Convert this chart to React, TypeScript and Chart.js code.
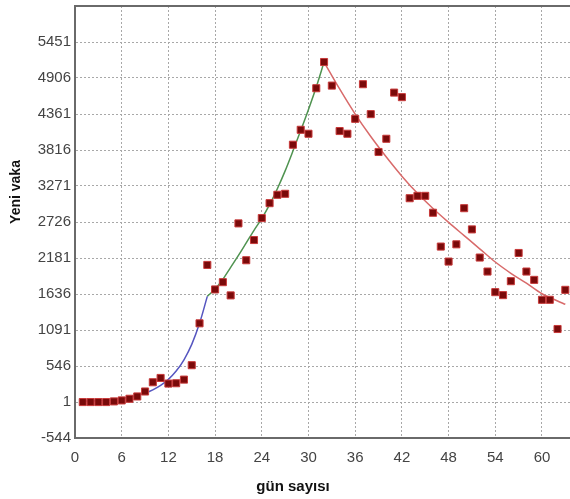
import React, { useEffect, useRef } from "react";
import { Chart, registerables } from "chart.js";

Chart.register(...registerables);

// Observed daily new cases (scatter points)
const days: number[] = Array.from({ length: 63 }, (_, i) => i + 1);
const cases: number[] = [
  0, 0, 0, 0, 10, 25, 50, 85, 160, 300, 365, 280, 285, 340, 558, 1192,
  2076, 1705, 1815, 1615, 2705, 2147, 2453, 2785, 3011, 3138, 3153,
  3896, 4122, 4062, 4751, 5148, 4791, 4103, 4062, 4288, 4812, 4359, 3786, 3986,
  4685, 4616, 3086, 3122, 3122, 2866,
  2354, 2127, 2388, 2935, 2614, 2188, 1976, 1664, 1619, 1830, 2257, 1976, 1850,
  1548, 1548, 1106, 1699,
];

// Fitted curves
const blueDays: number[] = [1, 2, 3, 4, 5, 6, 7, 8, 9, 10, 11, 12, 13, 14, 15, 16, 17];
const blueVals: number[] = [11, 15, 21, 29, 40, 54, 73, 100, 136, 185, 252, 344, 469, 640, 873, 1192, 1600];

const greenDays: number[] = [17, 18, 19, 20, 21, 22, 23, 24, 25, 26, 27, 28, 29, 30, 31, 32];
const greenVals: number[] = [1600, 1710, 1860, 2040, 2220, 2410, 2600, 2780, 2990, 3230, 3500, 3800, 4110, 4430, 4770, 5148];

const redDays: number[] = [32, 34, 36, 38, 40, 42, 44, 46, 48, 50, 52, 54, 56, 58, 60, 62, 63];
const redVals: number[] = [5148, 4740, 4360, 4020, 3710, 3420, 3160, 2930, 2720, 2520, 2320, 2120, 1950, 1800, 1640, 1530, 1480];

// Axis ticks
const yTicks: number[] = [-544, 1, 546, 1091, 1636, 2181, 2726, 3271, 3816, 4361, 4906, 5451];
const xTicks: number[] = [0, 6, 12, 18, 24, 30, 36, 42, 48, 54, 60];
const yMin = -544;
const yMax = 5996;
const xMin = 0;
const xMax = 63.6;

const FONT = "'Liberation Sans', Arial, sans-serif";

const pts = (xs: number[], ys: number[]) => xs.map((x, i) => ({ x, y: ys[i] }));

const decorPlugin = {
  id: "decor",
  afterDraw(chart: any) {
    const { ctx, chartArea } = chart;
    ctx.save();
    ctx.strokeStyle = "#6a6a6a";
    ctx.lineWidth = 2;
    ctx.beginPath();
    ctx.moveTo(chartArea.left - 1, chartArea.top);
    ctx.lineTo(chartArea.right, chartArea.top);
    ctx.stroke();

    ctx.fillStyle = "#111";
    ctx.textAlign = "center";
    ctx.textBaseline = "middle";
    ctx.font = `bold 14px ${FONT}`;
    ctx.save();
    ctx.translate(16, 192);
    ctx.rotate(-Math.PI / 2);
    ctx.fillText("Yeni vaka", 0, 0);
    ctx.restore();
    ctx.font = `bold 15px ${FONT}`;
    ctx.fillText("gün sayısı", 293, 487);
    ctx.restore();
  },
};

export default function App() {
  const ref = useRef<HTMLCanvasElement>(null);

  useEffect(() => {
    document.body.style.margin = "0";
    document.body.style.background = "#fff";
    const canvas = ref.current;
    if (!canvas) return;
    const chart = new Chart(canvas, {
      type: "scatter",
      data: {
        datasets: [
          {
            label: "vaka",
            data: pts(days, cases),
            pointStyle: "rect",
            pointRadius: 5,
            pointBackgroundColor: "#7a0a0a",
            pointBorderColor: "#c83a3a",
            pointBorderWidth: 1,
            showLine: false,
          },
          {
            label: "blue",
            data: pts(blueDays, blueVals),
            showLine: true,
            borderColor: "#5656c0",
            borderWidth: 1.5,
            pointRadius: 0,
            cubicInterpolationMode: "monotone",
          },
          {
            label: "green",
            data: pts(greenDays, greenVals),
            showLine: true,
            borderColor: "#4f9350",
            borderWidth: 1.5,
            pointRadius: 0,
            cubicInterpolationMode: "monotone",
          },
          {
            label: "red",
            data: pts(redDays, redVals),
            showLine: true,
            borderColor: "#d86a6a",
            borderWidth: 1.5,
            pointRadius: 0,
            cubicInterpolationMode: "monotone",
          },
        ],
      },
      options: {
        responsive: false,
        animation: false,
        layout: { autoPadding: false, padding: { top: 6, left: 0, right: 0, bottom: 0 } },
        plugins: {
          legend: { display: false },
          tooltip: { enabled: false },
        },
        scales: {
          x: {
            type: "linear",
            min: xMin,
            max: xMax,
            afterBuildTicks: (scale: any) => {
              scale.ticks = xTicks.map((v) => ({ value: v }));
            },
            afterFit: (scale: any) => {
              scale.height = 61;
              scale.paddingLeft = 0;
              scale.paddingRight = 0;
            },
            grid: {
              color: "#a8a8a8",
              lineWidth: 1,
              drawTicks: false,
            },
            border: { display: true, color: "#6a6a6a", width: 2, dash: [2, 2] },
            ticks: {
              color: "#444",
              font: { family: FONT, size: 15 },
              padding: 11,
              maxRotation: 0,
              autoSkip: false,
              callback: (v: any) => String(v),
            },
          },
          y: {
            type: "linear",
            min: yMin,
            max: yMax,
            afterBuildTicks: (scale: any) => {
              scale.ticks = yTicks.map((v) => ({ value: v }));
            },
            afterFit: (scale: any) => {
              scale.width = 75;
              scale.paddingTop = 0;
              scale.paddingBottom = 0;
            },
            grid: {
              color: "#a8a8a8",
              lineWidth: 1,
              drawTicks: false,
            },
            border: { display: true, color: "#6a6a6a", width: 2, dash: [2, 2] },
            ticks: {
              color: "#444",
              font: { family: FONT, size: 15 },
              padding: 4,
              autoSkip: false,
              callback: (v: any) => String(v),
            },
          },
        },
      },
      plugins: [decorPlugin],
    } as any);
    return () => chart.destroy();
  }, []);

  return (
    <div style={{ width: 570, height: 499, background: "#fff" }}>
      <canvas ref={ref} width={570} height={499} style={{ display: "block" }} />
    </div>
  );
}
